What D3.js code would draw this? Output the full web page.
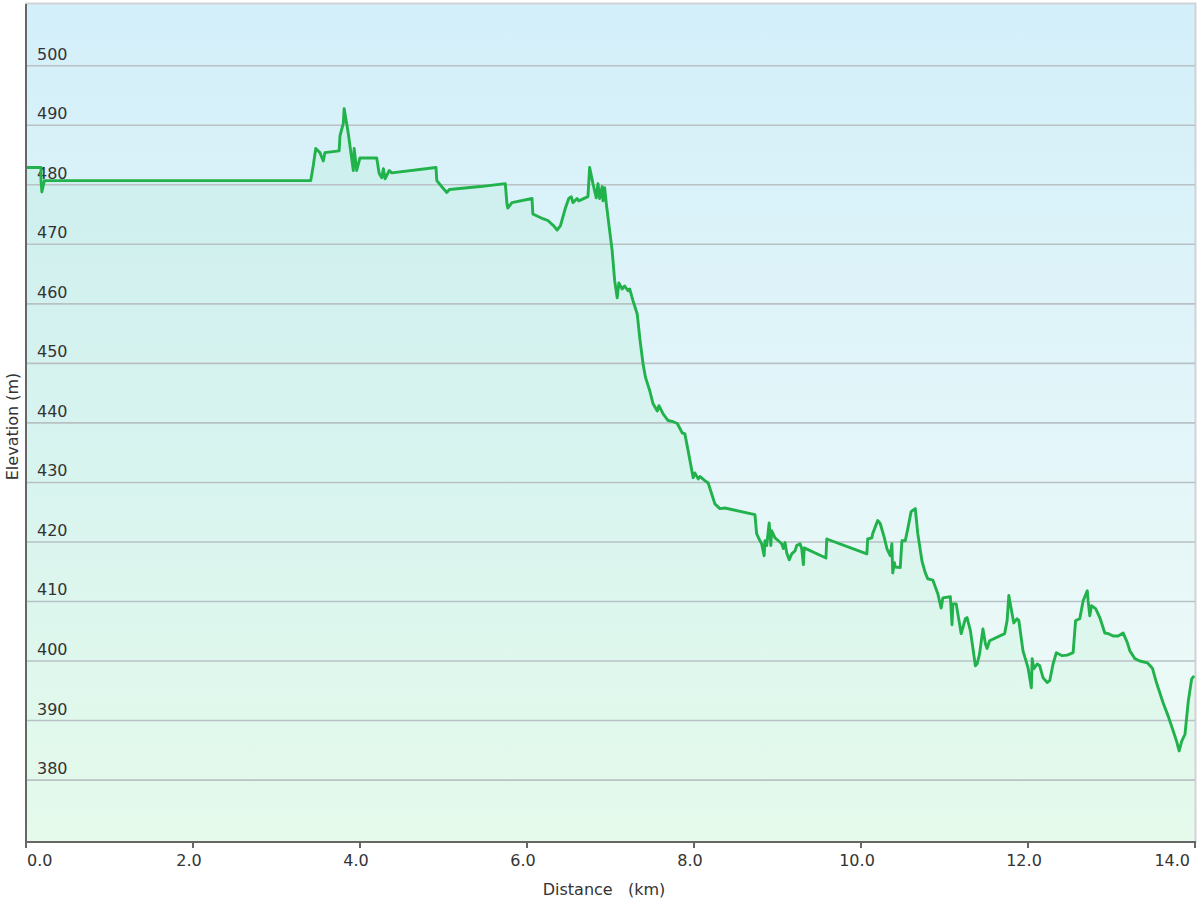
<!DOCTYPE html>
<html>
<head>
<meta charset="utf-8">
<script src="https://cdn.jsdelivr.net/npm/d3@7"></script>
<style>
  html, body { margin: 0; padding: 0; background: #ffffff; }
  svg { display: block; }
  text { font-family: "DejaVu Sans", Verdana, sans-serif; fill: #333; }
</style>
</head>
<body>
<svg id="chart" width="1200" height="900"></svg>
<script>
// Distance along the route (km)
const distance = [
  0.00, 0.18, 0.18, 0.19, 0.22, 3.41, 3.44, 3.47, 3.52, 3.56,
  3.58, 3.75, 3.76, 3.80, 3.81, 3.86, 3.92, 3.93, 3.96, 4.00,
  4.20, 4.23, 4.26, 4.28, 4.30, 4.35, 4.38, 4.91, 4.92, 4.99,
  5.04, 5.07, 5.44, 5.74, 5.76, 5.77, 5.82, 6.06, 6.07, 6.19,
  6.25, 6.32, 6.36, 6.40, 6.46, 6.50, 6.53, 6.55, 6.60, 6.62,
  6.73, 6.75, 6.79, 6.83, 6.85, 6.87, 6.90, 6.91, 6.93, 6.95,
  7.02, 7.05, 7.08, 7.10, 7.14, 7.17, 7.21, 7.23, 7.27, 7.32,
  7.35, 7.39, 7.42, 7.47, 7.51, 7.56, 7.58, 7.63, 7.69, 7.75,
  7.80, 7.86, 7.89, 7.93, 7.99, 8.01, 8.05, 8.07, 8.13, 8.17,
  8.25, 8.31, 8.37, 8.73, 8.75, 8.79, 8.81, 8.84, 8.85, 8.87,
  8.90, 8.92, 8.93, 8.97, 9.01, 9.05, 9.07, 9.09, 9.11, 9.14,
  9.17, 9.21, 9.23, 9.27, 9.29, 9.31, 9.32, 9.58, 9.59, 10.07,
  10.08, 10.13, 10.14, 10.20, 10.23, 10.28, 10.31, 10.35, 10.37, 10.38,
  10.40, 10.41, 10.47, 10.49, 10.53, 10.56, 10.60, 10.65, 10.68, 10.73,
  10.77, 10.80, 10.86, 10.92, 10.96, 10.98, 11.07, 11.09, 11.10, 11.14,
  11.20, 11.25, 11.27, 11.31, 11.37, 11.39, 11.42, 11.46, 11.49, 11.51,
  11.54, 11.72, 11.75, 11.77, 11.81, 11.83, 11.87, 11.89, 11.94, 12.00,
  12.04, 12.05, 12.07, 12.11, 12.14, 12.18, 12.23, 12.26, 12.30, 12.34,
  12.41, 12.47, 12.54, 12.57, 12.62, 12.66, 12.71, 12.72, 12.74, 12.76,
  12.81, 12.86, 12.92, 12.96, 13.02, 13.08, 13.14, 13.19, 13.22, 13.28,
  13.34, 13.43, 13.49, 13.54, 13.62, 13.68, 13.74, 13.78, 13.81, 13.84,
  13.88, 13.92, 13.96, 13.99
];
// Elevation (m)
const elevation = [
  482.9, 482.9, 480.7, 478.8, 480.7, 480.7, 483.2, 486.1, 485.4, 484.0,
  485.4, 485.7, 488.2, 490.3, 492.8, 488.6, 482.4, 486.1, 482.4, 484.5,
  484.5, 481.9, 481.2, 482.7, 481.0, 482.4, 482.0, 482.9, 480.7, 479.5,
  478.7, 479.2, 479.7, 480.2, 476.8, 476.1, 477.0, 477.7, 475.1, 474.3,
  474.0, 473.1, 472.4, 473.1, 476.1, 477.7, 478.0, 477.0, 477.7, 477.3,
  478.0, 482.9, 480.2, 477.8, 480.2, 477.7, 479.7, 477.3, 479.5, 476.8,
  468.9, 463.9, 461.0, 463.5, 462.5, 463.0, 462.2, 462.5, 460.5, 458.3,
  454.3, 449.9, 447.6, 445.4, 443.2, 442.0, 442.9, 441.5, 440.4, 440.2,
  439.9, 438.3, 438.2, 435.3, 430.8, 431.6, 430.6, 431.0, 430.3, 429.9,
  426.4, 425.6, 425.7, 424.6, 421.4, 420.2, 419.7, 417.7, 420.2, 419.4,
  423.2, 419.4, 421.9, 420.7, 420.2, 419.7, 418.9, 419.9, 418.2, 417.0,
  418.0, 418.5, 419.4, 419.7, 418.9, 416.2, 419.0, 417.3, 420.5, 418.0,
  420.5, 420.7, 421.4, 423.6, 423.1, 420.7, 418.9, 417.7, 419.7, 414.8,
  416.5, 415.8, 415.7, 420.2, 420.2, 422.2, 425.1, 425.6, 421.4, 416.8,
  414.8, 413.8, 413.6, 411.3, 408.9, 410.6, 410.8, 406.1, 409.6, 409.6,
  404.6, 407.1, 407.3, 405.1, 399.2, 399.5, 401.2, 405.4, 402.9, 402.1,
  403.4, 404.6, 406.8, 411.0, 407.9, 406.4, 407.1, 406.8, 401.7, 398.9,
  395.5, 400.4, 398.7, 399.5, 399.2, 397.2, 396.4, 396.7, 399.5, 401.4,
  400.9, 401.0, 401.4, 406.8, 407.1, 410.1, 411.8, 410.1, 407.6, 409.3,
  408.8, 407.3, 404.7, 404.6, 404.2, 404.2, 404.7, 403.1, 401.7, 400.4,
  400.0, 399.7, 398.8, 396.3, 392.9, 390.7, 388.2, 386.5, 384.9, 386.5,
  387.7, 393.3, 397.0, 397.5
];
const yTicks = [380, 390, 400, 410, 420, 430, 440, 450, 460, 470, 480, 490, 500];
const xTicks = [0, 2, 4, 6, 8, 10, 12, 14];
const xTitle = "Distance\u00a0\u00a0\u00a0(km)";
const yTitle = "Elevation (m)";

(function () {
const svg = d3.select("#chart");
const L = 26, R = 1195, T = 5, B = 842;

const x = d3.scaleLinear().domain([0, 14]).range([L, R]);
const y = d3.scaleLinear().domain([369.6, 510.2]).range([B, T]);

const data = distance.map((d, i) => ({ d: d, e: elevation[i] }));

const defs = svg.append("defs");
const bg = defs.append("linearGradient").attr("id", "bg")
  .attr("x1", 0).attr("y1", 0).attr("x2", 0).attr("y2", 1);
bg.append("stop").attr("offset", "0%").attr("stop-color", "#d3eff9");
bg.append("stop").attr("offset", "55%").attr("stop-color", "#e4f6f9");
bg.append("stop").attr("offset", "100%").attr("stop-color", "#f1fcf5");

// outer frame
svg.append("rect")
  .attr("x", L).attr("y", 3.5)
  .attr("width", R - L + 0.5).attr("height", B - 3.5)
  .attr("fill", "url(#bg)")
  .attr("stroke", "#cfd3d5").attr("stroke-width", 2);

// area under the profile
svg.append("path")
  .datum(data)
  .attr("fill", "rgba(70,220,120,0.07)")
  .attr("d", d3.area().x(p => x(p.d)).y0(B).y1(p => y(p.e)));

// grid lines
svg.append("g").selectAll("line")
  .data(yTicks).join("line")
  .attr("x1", L).attr("x2", R)
  .attr("y1", v => y(v)).attr("y2", v => y(v))
  .attr("stroke", "#b9c1c5").attr("stroke-width", 1.6);

// y tick labels (inside plot)
svg.append("g").selectAll("text")
  .data(yTicks).join("text")
  .attr("x", 37).attr("y", v => y(v) - 6)
  .attr("font-size", 16)
  .text(v => v);

// profile line
svg.append("path")
  .datum(data)
  .attr("fill", "none")
  .attr("stroke", "#22b24c")
  .attr("stroke-width", 2.9)
  .attr("stroke-linejoin", "round")
  .attr("d", d3.line().x(p => x(p.d)).y(p => y(p.e)));

// axes lines
svg.append("line").attr("x1", L).attr("x2", L).attr("y1", 4).attr("y2", B + 1)
  .attr("stroke", "#666").attr("stroke-width", 2);
svg.append("line").attr("x1", L - 1).attr("x2", R + 1).attr("y1", B).attr("y2", B)
  .attr("stroke", "#666").attr("stroke-width", 2);

// x ticks
svg.append("g").selectAll("line")
  .data(xTicks).join("line")
  .attr("x1", v => x(v)).attr("x2", v => x(v))
  .attr("y1", B).attr("y2", B + 6)
  .attr("stroke", "#666").attr("stroke-width", 2);

svg.append("g").selectAll("text")
  .data(xTicks).join("text")
  .attr("y", 866)
  .attr("font-size", 16)
  .text(v => v.toFixed(1))
  .each(function(v) {
    const w = this.getComputedTextLength();
    let cx = x(v) - 4 - w / 2;
    cx = Math.max(27, Math.min(1190 - w, cx));
    d3.select(this).attr("x", cx);
  });

// axis titles
svg.append("text")
  .attr("x", 604).attr("y", 895)
  .attr("text-anchor", "middle").attr("font-size", 16)
  .text(xTitle);

svg.append("text")
  .attr("transform", "translate(18," + ((T + B) / 2 + 3) + ") rotate(-90)")
  .attr("text-anchor", "middle").attr("font-size", 16)
  .text(yTitle);
})();
</script>
</body>
</html>
